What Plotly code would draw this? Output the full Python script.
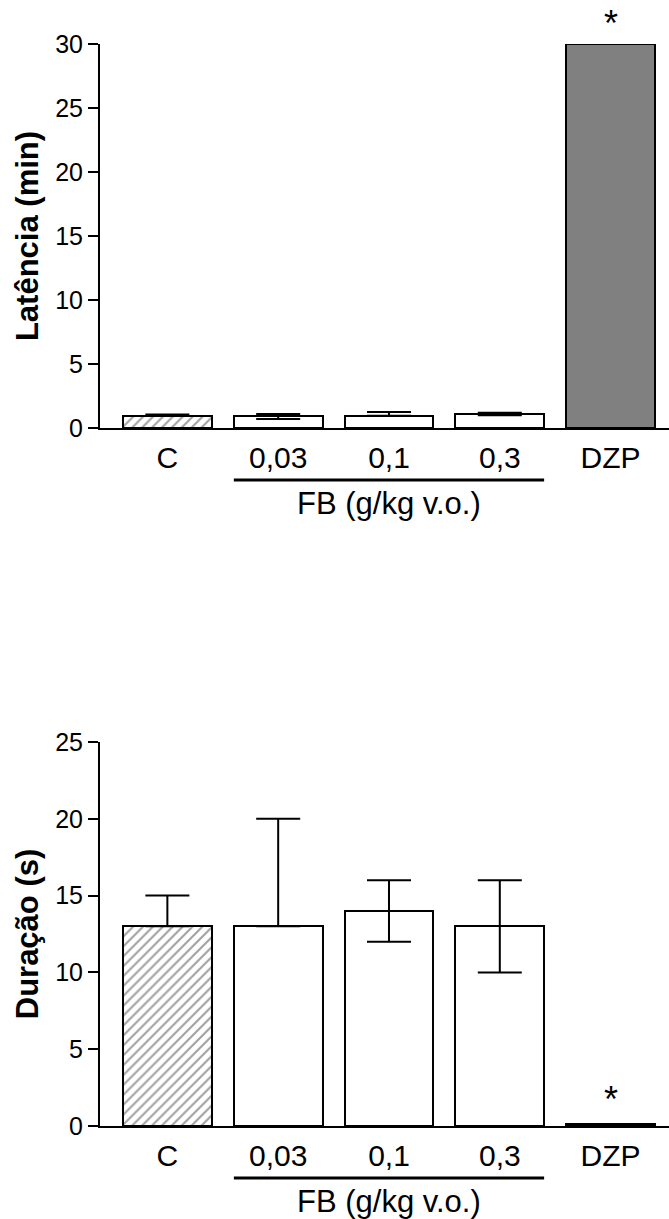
import plotly.graph_objects as go

categories = ["C", "0,03", "0,1", "0,3", "DZP"]

lat_values = [0.95, 0.9, 0.95, 1.1, 30]
lat_err_plus = [0.1, 0.2, 0.3, 0.1, 0]
lat_err_minus = [0, 0.2, 0, 0.1, 0]

dur_values = [13, 13, 14, 13, 0.1]
dur_err_plus = [2, 7, 2, 3, 0]
dur_err_minus = [0, 0, 2, 3, 0]

lat_colors = ["white", "white", "white", "white", "#808080"]
dur_colors = ["white", "white", "white", "white", "white"]
patterns = ["/", "", "", "", ""]

W, H = 669, 1219
FONT = "Liberation Sans, Arial, sans-serif"
xpos = list(range(len(categories)))


def py(px):
    return 1 - px / H


fig = go.Figure()

for vals, ep, em, cols, xa, ya in [
    (lat_values, lat_err_plus, lat_err_minus, lat_colors, "x", "y"),
    (dur_values, dur_err_plus, dur_err_minus, dur_colors, "x2", "y2"),
]:
    fig.add_trace(go.Bar(
        x=xpos, y=vals, xaxis=xa, yaxis=ya, width=0.8,
        marker=dict(color=cols, line=dict(color="black", width=2),
                    pattern=dict(shape=patterns, fgcolor="black", bgcolor="white",
                                 size=7, solidity=0.3, fillmode="overlay")),
        error_y=dict(type="data", symmetric=False, array=ep, arrayminus=em,
                     color="black", thickness=2, width=22),
        showlegend=False,
    ))

xdom = [100 / W, 1.0]
xrange = [-0.608, 4.527]
common_x = dict(range=xrange, tickvals=xpos, ticktext=categories, showline=True,
                linecolor="black", linewidth=1.5, ticks="", showgrid=False,
                zeroline=False, tickfont=dict(family=FONT, size=30, color="black"),
                ticklabelstandoff=2, fixedrange=True)
common_y = dict(showline=True, linecolor="black", linewidth=2, ticks="outside",
                ticklen=10, tickwidth=1.5, tickcolor="black", showgrid=False,
                zeroline=False, tickfont=dict(family=FONT, size=25, color="black"),
                dtick=5, automargin=False, fixedrange=True)

fig.update_layout(
    width=W, height=H, margin=dict(l=0, r=0, t=0, b=0),
    paper_bgcolor="white", plot_bgcolor="white", bargap=0,
    xaxis=dict(domain=xdom, anchor="y", **common_x),
    yaxis=dict(domain=[py(428), py(44)], range=[0, 30], anchor="x",
               title=dict(text="<b>Latência (min)</b>", standoff=7,
                          font=dict(family=FONT, size=31, color="black")),
               **common_y),
    xaxis2=dict(domain=xdom, anchor="y2", **common_x),
    yaxis2=dict(domain=[py(1126), py(742)], range=[0, 25], anchor="x2",
                title=dict(text="<b>Duração (s)</b>", standoff=7,
                           font=dict(family=FONT, size=31, color="black")),
                **common_y),
)

# group bracket + label for FB doses
for xa, base in [("x", 428), ("x2", 1126)]:
    fig.add_shape(type="line", xref=xa, yref="paper", x0=0.6, x1=3.4,
                  y0=py(base + 52), y1=py(base + 52),
                  line=dict(color="black", width=3))
    fig.add_annotation(xref=xa, yref="paper", x=2, y=py(base + 75),
                       text="FB (g/kg v.o.)", showarrow=False, yanchor="middle",
                       font=dict(family=FONT, size=31, color="black"))

# significance asterisks
fig.add_annotation(xref="x", yref="y", x=4, y=lat_values[4], text="*",
                   showarrow=False, yanchor="bottom", yshift=-2,
                   font=dict(family=FONT, size=36, color="black"))
fig.add_annotation(xref="x2", yref="y2", x=4, y=dur_values[4], text="*",
                   showarrow=False, yanchor="bottom", yshift=2,
                   font=dict(family=FONT, size=36, color="black"))

fig.update_traces(cliponaxis=False)
fig.write_html("out.html", config={"displayModeBar": False},
               post_script="document.body.style.margin='0';")
